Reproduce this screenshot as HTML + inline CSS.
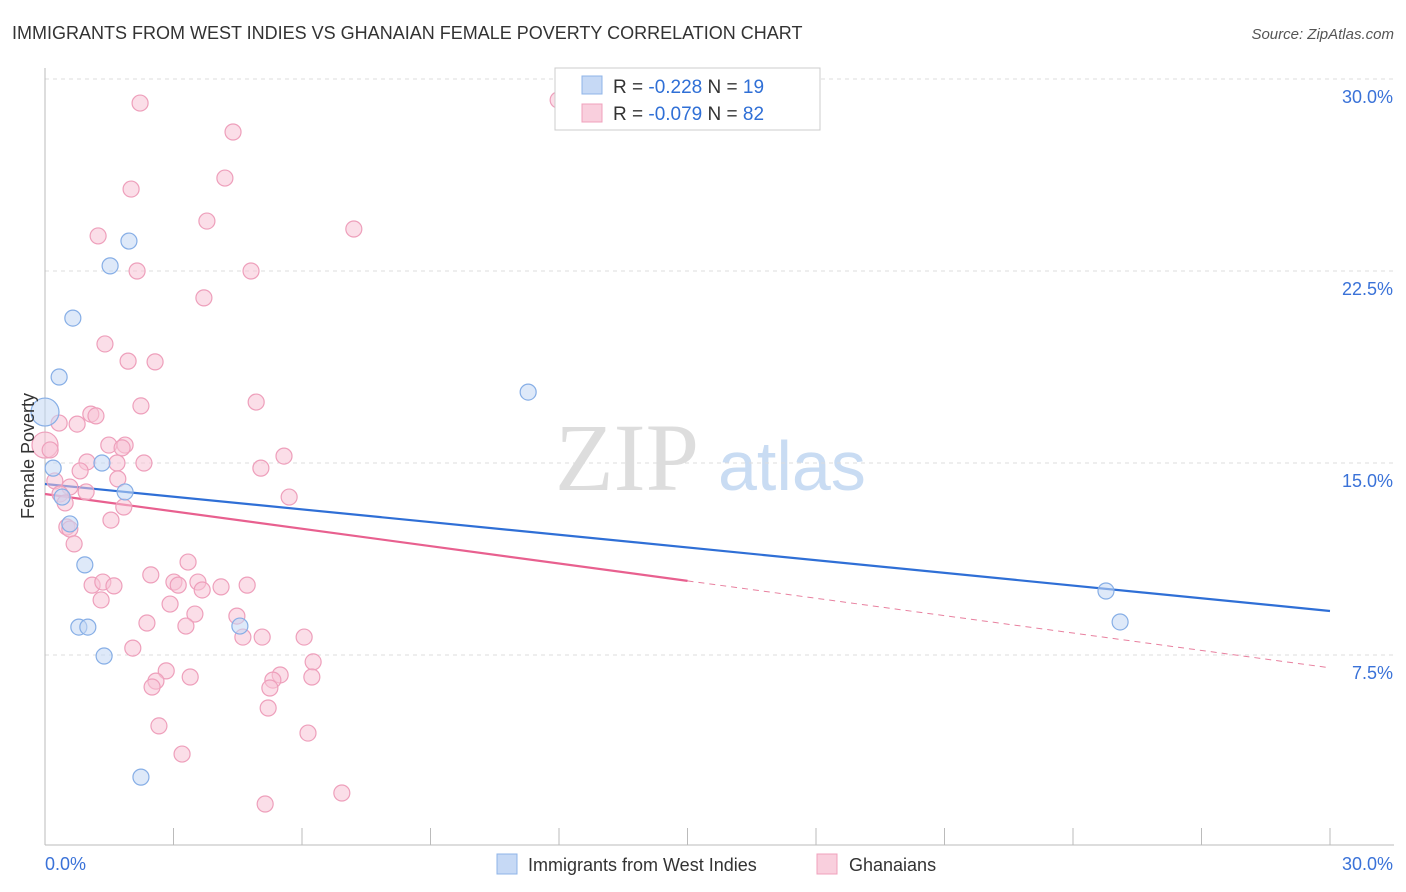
<!DOCTYPE html>
<html><head><meta charset="utf-8"><style>
body{margin:0;background:#fff;font-family:"Liberation Sans",sans-serif}
svg{display:block}
</style></head><body>
<svg id="chart" width="1406" height="892">
<text x="12" y="39" font-size="18" fill="#333">IMMIGRANTS FROM WEST INDIES VS GHANAIAN FEMALE POVERTY CORRELATION CHART</text>
<text x="1394" y="39" font-size="15" fill="#555" font-style="italic" text-anchor="end">Source: ZipAtlas.com</text>
<g>
<text x="555" y="490" font-family="Liberation Serif,serif" font-size="96" fill="#ddd">ZIP</text>
<text x="718" y="490" font-size="70" fill="#c9dcf3">atlas</text>
</g>
<g id="grid"></g><g id="axes"></g><g id="trends"></g><g id="points"></g>
<text transform="translate(34,456) rotate(-90)" font-size="18" fill="#333" text-anchor="middle">Female Poverty</text>
<g>
<rect x="555" y="68" width="265" height="62" fill="#fff" stroke="#ccc"/>
<rect x="582" y="76" width="20" height="18" fill="#c6d9f5" stroke="#8fb4e8"/>
<rect x="582" y="104" width="20" height="18" fill="#f9cfdd" stroke="#f0a0bc"/>
<text x="613" y="93" font-size="19" fill="#333">R = <tspan fill="#2f6fd6">-0.228</tspan>   N = <tspan fill="#2f6fd6">19</tspan></text>
<text x="613" y="120" font-size="19" fill="#333">R = <tspan fill="#2f6fd6">-0.079</tspan>   N = <tspan fill="#2f6fd6">82</tspan></text>
</g>
<g>
<rect x="497" y="854" width="20" height="20" fill="#c6d9f5" stroke="#8fb4e8"/>
<text x="528" y="871" font-size="18" fill="#333">Immigrants from West Indies</text>
<rect x="817" y="854" width="20" height="20" fill="#f9cfdd" stroke="#f0a0bc"/>
<text x="849" y="871" font-size="18" fill="#333">Ghanaians</text>
</g>
</svg>
<script>
const yTicks=[7.5,15,22.5,30];
const yTickLabels=["7.5%","15.0%","22.5%","30.0%"];
const xTicks=[0,3,6,9,12,15,18,21,24,27,30];
const blueX=[0,.33,.65,1.52,1.96,.19,1.33,1.87,.40,.58,.93,.79,1.00,1.38,2.24,4.55,11.28,24.77,25.10];
const blueY=[16.99,18.36,20.66,22.70,23.67,14.80,15.0,13.87,13.67,12.62,11.02,8.59,8.59,7.46,2.73,8.63,17.77,10.0,8.79];
const pinkX=[2.22,4.39,11.98,2.01,4.20,3.78,7.21,1.24,2.15,4.81,3.71,1.40,1.94,2.57,2.24,4.93,1.07,1.19,.75,.33,0,.12,1.49,1.87,1.80,.98,1.68,2.31,5.04,5.58,.82,.23,.58,1.70,.96,.35,.47,1.84,5.70,1.54,.51,.58,.68,3.34,2.47,3.01,3.11,1.10,1.35,1.61,3.57,3.67,4.11,4.72,1.31,2.92,3.50,4.48,2.38,3.29,4.62,5.07,6.05,2.05,6.26,2.83,3.39,5.49,5.32,6.23,2.59,2.50,5.25,2.66,5.21,6.14,3.20,6.93,5.14];
const pinkY=[29.06,27.93,29.18,25.70,26.13,24.45,24.14,23.87,22.5,22.5,21.45,19.65,18.98,18.95,17.23,17.38,16.91,16.84,16.52,16.56,15.70,15.51,15.70,15.70,15.59,15.04,15.0,15.0,14.80,15.27,14.69,14.30,14.06,14.38,13.87,13.79,13.44,13.28,13.67,12.77,12.50,12.42,11.84,11.13,10.63,10.35,10.23,10.23,10.35,10.20,10.35,10.04,10.16,10.23,9.65,9.49,9.10,9.02,8.75,8.63,8.20,8.20,8.20,7.77,7.23,6.88,6.64,6.72,6.52,6.64,6.48,6.25,6.21,4.73,5.43,4.45,3.63,2.11,1.68];
const blueTrend=[14.18,9.22];
const pinkTrend=[13.79,7.0];
const pinkSolidEnd=15;
const X=v=>45+v/30*1285, Y=v=>79+(30-v)*25.6;
const NS="http://www.w3.org/2000/svg";
function mk(t,a,p){const e=document.createElementNS(NS,t);for(const k in a)e.setAttribute(k,a[k]);p.appendChild(e);return e;}
const grid=document.getElementById('grid'),axes=document.getElementById('axes'),tr=document.getElementById('trends'),pts=document.getElementById('points');
yTicks.forEach((t,i)=>{
 const l=mk('line',{x1:45,x2:1394,y1:Y(t),y2:Y(t),stroke:'#ddd','stroke-dasharray':'4,4'},grid);
 
 
 const tx=mk('text',{x:1393,y:Y(t)+24,'font-size':18,fill:'#3a72d8','text-anchor':'end'},axes);
 tx.textContent=yTickLabels[i];
 
 
});
const ax=mk('line',{x1:45,x2:1394,y1:845,y2:845,stroke:'#bbb'},axes);


const ay=mk('line',{x1:45,x2:45,y1:68,y2:845,stroke:'#bbb'},axes);


xTicks.forEach(t=>{const l=mk('line',{x1:X(t),x2:X(t),y1:828,y2:845,stroke:'#bbb'},axes);
 
 });
[[0,'0.0%','start',45],[30,'30.0%','end',1393]].forEach(d=>{const t=mk('text',{x:d[3],y:870,'font-size':18,fill:'#3a72d8','text-anchor':d[2]},axes);t.textContent=d[1];
 
 });
function pt(x,y,r,f,s){const c=mk('circle',{cx:X(x),cy:Y(y),r:r,fill:f,'fill-opacity':0.55,stroke:s,'stroke-width':1.2},pts);return c;}
pinkX.forEach((x,i)=>{const c=pt(x,pinkY[i],(x===0)?13:8,'#f7c3d5','#ee9fbb');
 
 });
blueX.forEach((x,i)=>{const c=pt(x,blueY[i],(i===0)?14:8,'#c3d7f4','#86aee6');
 
 });
const pAt=x=>pinkTrend[0]+(pinkTrend[1]-pinkTrend[0])*x/30;
const bl=mk('line',{x1:X(0),y1:Y(blueTrend[0]),x2:X(30),y2:Y(blueTrend[1]),stroke:'#2f6fd6','stroke-width':2.2},tr);


const pl=mk('line',{x1:X(0),y1:Y(pinkTrend[0]),x2:X(pinkSolidEnd),y2:Y(pAt(pinkSolidEnd)),stroke:'#e8608f','stroke-width':2.2},tr);


const pd=mk('line',{x1:X(pinkSolidEnd),y1:Y(pAt(pinkSolidEnd)),x2:X(30),y2:Y(pinkTrend[1]),stroke:'#e8809f','stroke-width':1,'stroke-dasharray':'6,5'},tr);


</script>
</body></html>
